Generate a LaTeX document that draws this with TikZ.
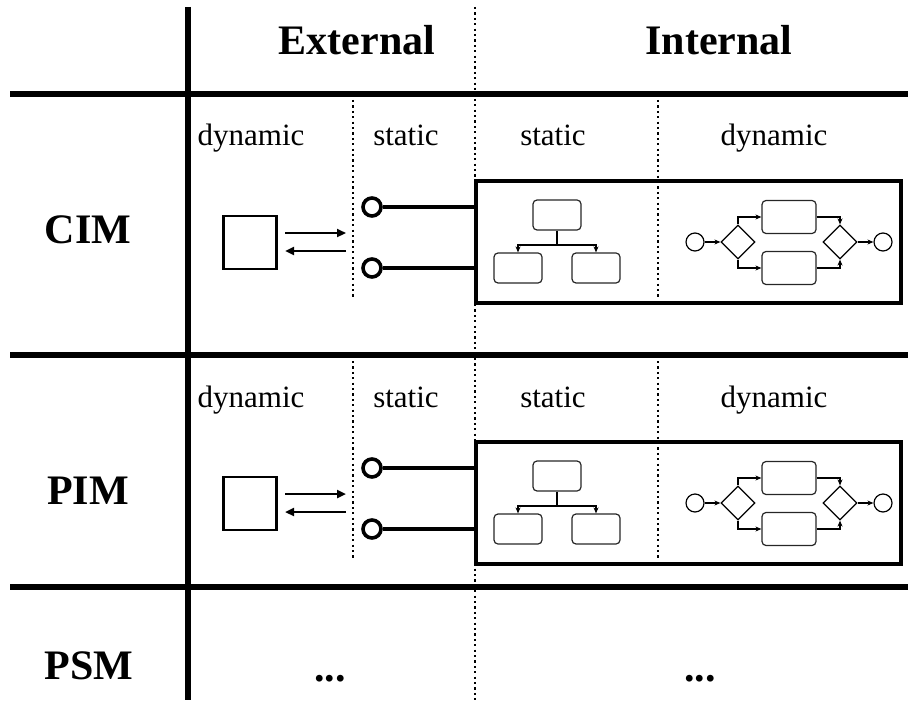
\documentclass[tikz,border=0pt]{standalone}
\usepackage{fontspec}
\setmainfont{Liberation Serif}
\usetikzlibrary{arrows.meta,shapes.geometric}

\tikzset{
  heavy/.style={line width=2.8pt},
  sep/.style={line width=1.1pt,dash pattern=on 1.1pt off 1.6pt},
  head/.style={anchor=base,font=\fontsize{21}{24}\selectfont\bfseries},
  lbl/.style={anchor=base,font=\fontsize{15.5}{18}\selectfont},
  actor/.style={draw=black,line width=1.3pt,minimum size=26.5pt,inner sep=0pt},
  msg/.style={line width=1.4pt,-{Triangle[length=4.5pt,width=4pt]}},
  port/.style={draw=black,circle,line width=1.8pt,minimum size=9pt,inner sep=0pt},
  wire/.style={line width=1.7pt},
  frame/.style={draw=black,line width=1.6pt,minimum width=212.5pt,minimum height=61pt,inner sep=0pt},
  unit/.style={draw=black!85,line width=0.6pt,rounded corners=2pt,minimum width=24pt,minimum height=15pt,inner sep=0pt},
  task/.style={draw=black!85,line width=0.6pt,rounded corners=2pt,minimum width=27pt,minimum height=16.5pt,inner sep=0pt},
  gate/.style={draw=black,diamond,line width=0.6pt,minimum size=17pt,inner sep=0pt},
  event/.style={draw=black,circle,line width=0.6pt,minimum size=9pt,inner sep=0pt},
  flow/.style={line width=0.6pt,-{Stealth[length=3pt,width=2.5pt]}},
  link/.style={line width=0.6pt},
}

\begin{document}
\begin{tikzpicture}[x=0.5pt,y=-0.5pt]
   \useasboundingbox (0,0) rectangle (908,700);

   % grid
   \draw[heavy] (10,94) -- (908,94);
   \draw[heavy] (10,355) -- (908,355);
   \draw[heavy] (10,587) -- (908,587);
   \draw[heavy] (188,7) -- (188,700);
   \draw[sep] (475,7) -- (475,700);

   % header
   \node[head,name=ext] at (357,55) {External};
   \node[head,name=int] at (719,55) {Internal};

   % CIM row
   \node[head,name=cim] at (88,243) {CIM};
   \draw[sep] (353,100) -- (353,297);
   \node[lbl,name=dynA] at (251,146) {dynamic};
   \node[lbl,name=staA] at (406,146) {static};
   \node[lbl,name=stiA] at (553,146) {static};
   \node[lbl,name=dyiA] at (774,146) {dynamic};
   \node[actor,name=sqA] at (250,242.5) {};
   \coordinate (m1A) at (285,233);
   \coordinate (m2A) at (346,233);
   \coordinate (m3A) at (346,251);
   \coordinate (m4A) at (285,251);
   \draw[msg] (m1A) -- (m2A);
   \draw[msg] (m3A) -- (m4A);
   \node[frame,name=boxA] at (688.5,242) {};
   \draw[sep] (658,100) -- (658,297);
   \node[port,name=p1A] at (372,207) {};
   \node[port,name=p2A] at (372,268) {};
   \draw[wire] (p1A) -- (p1A -| boxA.west);
   \draw[wire] (p2A) -- (p2A -| boxA.west);
   \node[unit,name=topA] at (557,215) {};
   \node[unit,name=lA] at (518,268) {};
   \node[unit,name=rA] at (596,268) {};
   \coordinate (forkA) at (557,245);
   \draw[link] (topA) -- (forkA);
   \draw[flow] (forkA) -| (lA);
   \draw[flow] (forkA) -| (rA);
   \node[event,name=startA] at (695,242) {};
   \node[gate,name=g1A] at (738,242) {};
   \node[task,name=t1A] at (789,217) {};
   \node[task,name=t2A] at (789,268) {};
   \node[gate,name=g2A] at (840,242) {};
   \node[event,name=endA] at (883,242) {};
   \draw[flow] (startA) -- (g1A);
   \draw[flow] (g1A.north) |- (t1A);
   \draw[flow] (g1A.south) |- (t2A);
   \draw[flow] (t1A) -| (g2A.north);
   \draw[flow] (t2A) -| (g2A.south);
   \draw[flow] (g2A) -- (endA);

   % PIM row
   \node[head,name=pim] at (88,504) {PIM};
   \draw[sep] (353,361) -- (353,558);
   \node[lbl,name=dynB] at (251,407) {dynamic};
   \node[lbl,name=staB] at (406,407) {static};
   \node[lbl,name=stiB] at (553,407) {static};
   \node[lbl,name=dyiB] at (774,407) {dynamic};
   \node[actor,name=sqB] at (250,503.5) {};
   \coordinate (m1B) at (285,494);
   \coordinate (m2B) at (346,494);
   \coordinate (m3B) at (346,512);
   \coordinate (m4B) at (285,512);
   \draw[msg] (m1B) -- (m2B);
   \draw[msg] (m3B) -- (m4B);
   \node[frame,name=boxB] at (688.5,503) {};
   \draw[sep] (658,361) -- (658,558);
   \node[port,name=p1B] at (372,468) {};
   \node[port,name=p2B] at (372,529) {};
   \draw[wire] (p1B) -- (p1B -| boxB.west);
   \draw[wire] (p2B) -- (p2B -| boxB.west);
   \node[unit,name=topB] at (557,476) {};
   \node[unit,name=lB] at (518,529) {};
   \node[unit,name=rB] at (596,529) {};
   \coordinate (forkB) at (557,506);
   \draw[link] (topB) -- (forkB);
   \draw[flow] (forkB) -| (lB);
   \draw[flow] (forkB) -| (rB);
   \node[event,name=startB] at (695,503) {};
   \node[gate,name=g1B] at (738,503) {};
   \node[task,name=t1B] at (789,478) {};
   \node[task,name=t2B] at (789,529) {};
   \node[gate,name=g2B] at (840,503) {};
   \node[event,name=endB] at (883,503) {};
   \draw[flow] (startB) -- (g1B);
   \draw[flow] (g1B.north) |- (t1B);
   \draw[flow] (g1B.south) |- (t2B);
   \draw[flow] (t1B) -| (g2B.north);
   \draw[flow] (t2B) -| (g2B.south);
   \draw[flow] (g2B) -- (endB);

   % PSM row
   \node[head,name=psm] at (89,679) {PSM};
   \node[head,name=moreA] at (330,681) {...};
   \node[head,name=moreB] at (700,681) {...};
\end{tikzpicture}
\end{document}
